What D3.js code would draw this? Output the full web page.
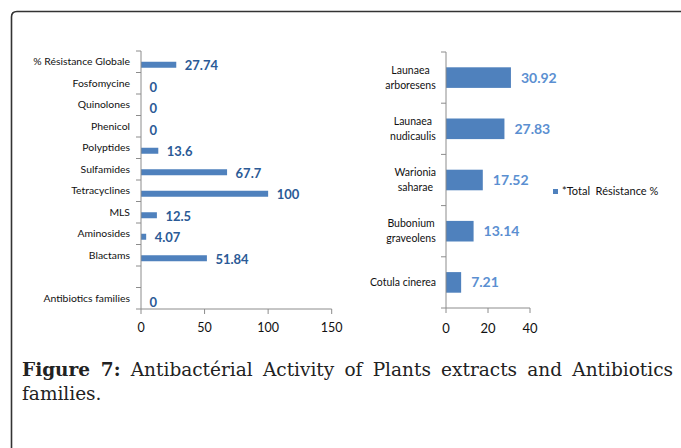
<!DOCTYPE html>
<html><head><meta charset="utf-8">
<script src="https://cdn.jsdelivr.net/npm/d3@7"></script>
<style>
html,body{margin:0;padding:0;background:#fff;width:681px;height:448px;overflow:hidden;}
#cap{position:absolute;left:22px;top:358px;width:651px;font-family:"DejaVu Serif","Liberation Serif",serif;font-size:18.5px;line-height:24px;color:#222;}
#cap .l1{text-align:justify;text-align-last:justify;white-space:nowrap;}
#cap b{font-weight:bold;}
</style></head><body>
<svg id="chart" width="681" height="448" style="position:absolute;left:0;top:0"></svg>
<div id="cap"><div class="l1"><b>Figure 7:</b> Antibactérial Activity of Plants extracts and Antibiotics</div><div>families.</div></div>
<script>
const antibioticCategories = ["% Résistance Globale","Fosfomycine","Quinolones","Phenicol","Polyptides","Sulfamides","Tetracyclines","MLS","Aminosides","Blactams","","Antibiotics families"];
const antibioticValues = [27.74,0,0,0,13.6,67.7,100,12.5,4.07,51.84,null,0];
const antibioticTicks = [0,50,100,150];
const plantCategories = [["Launaea","arboresens"],["Launaea","nudicaulis"],["Warionia","saharae"],["Bubonium","graveolens"],["Cotula cinerea"]];
const plantValues = [30.92,27.83,17.52,13.14,7.21];
const plantTicks = [0,20,40];
const legendLabel = "*Total  Résistance %";

const svg = d3.select("#chart");
const font = "Lato, 'Open Sans', sans-serif";
const barColor = "#4f81bd";
const axisColor = "#8c8c8c";

// frame
svg.append("path").attr("d","M11.5,448 L11.5,17 Q11.5,11.5 17,11.5 L681,11.5")
  .attr("fill","none").attr("stroke","#333").attr("stroke-width",1.6);

// ---- Left chart
const lx = d3.scaleLinear().domain([0,150]).range([141,331.7]);
const ly = d3.scaleBand().domain(antibioticCategories.map((d,i)=>i)).range([51,309]).paddingInner(0).paddingOuter(0);
const g1 = svg.append("g");
g1.selectAll("rect").data(antibioticValues.map((v,i)=>({v,i})).filter(d=>d.v!==null)).enter().append("rect")
  .attr("x",lx(0)).attr("y",d=>ly(d.i)+ly.bandwidth()/2).attr("height",6)
  .attr("width",d=>lx(d.v)-lx(0)).attr("fill",barColor);
g1.append("line").attr("x1",141).attr("x2",141).attr("y1",51).attr("y2",309).attr("stroke",axisColor);
const yTicks1 = d3.range(antibioticCategories.length+1).map(i=>51+i*ly.bandwidth());
g1.selectAll(".yt").data(yTicks1).enter().append("line").attr("x1",136).attr("x2",141)
  .attr("y1",d=>d).attr("y2",d=>d).attr("stroke",axisColor);
g1.append("line").attr("x1",141).attr("x2",331.7).attr("y1",309).attr("y2",309).attr("stroke",axisColor);
g1.selectAll(".xt").data(antibioticTicks).enter().append("line").attr("x1",d=>lx(d)).attr("x2",d=>lx(d))
  .attr("y1",309).attr("y2",314).attr("stroke",axisColor);
g1.selectAll(".xl").data(antibioticTicks).enter().append("text").attr("x",d=>lx(d)).attr("y",332)
  .attr("text-anchor","middle").attr("font-family",font).attr("font-size",12.5).attr("fill","#111").text(d=>d);
g1.selectAll(".cl").data(antibioticCategories).enter().append("text").attr("x",130)
  .attr("y",(d,i)=>ly(i)+ly.bandwidth()/2+3.5).attr("text-anchor","end").attr("font-family",font)
  .attr("font-size",10.4).attr("fill","#111").text(d=>d);
g1.selectAll(".vl").data(antibioticValues.map((v,i)=>({v,i})).filter(d=>d.v!==null)).enter().append("text")
  .attr("x",d=>lx(d.v)+8.5).attr("y",d=>ly(d.i)+ly.bandwidth()/2+8.5).attr("font-family",font)
  .attr("font-size",13).attr("font-weight","bold").attr("fill","#2b5a96").text(d=>d.v);

// ---- Right chart
const rx = d3.scaleLinear().domain([0,40]).range([446,530]);
const rb = d3.scaleBand().domain(plantCategories.map((d,i)=>i)).range([52,308]);
const g2 = svg.append("g");
g2.selectAll("rect").data(plantValues).enter().append("rect")
  .attr("x",rx(0)).attr("y",(d,i)=>rb(i)+rb.bandwidth()/2-10.3).attr("height",20.6)
  .attr("width",d=>rx(d)-rx(0)).attr("fill",barColor);
g2.append("line").attr("x1",446).attr("x2",446).attr("y1",52).attr("y2",308).attr("stroke",axisColor);
g2.selectAll(".yt").data(d3.range(plantCategories.length+1).map(i=>52+i*rb.bandwidth())).enter().append("line")
  .attr("x1",441).attr("x2",446).attr("y1",d=>d).attr("y2",d=>d).attr("stroke",axisColor);
g2.append("line").attr("x1",446).attr("x2",530).attr("y1",308).attr("y2",308).attr("stroke",axisColor);
g2.selectAll(".xt").data(plantTicks).enter().append("line").attr("x1",d=>rx(d)).attr("x2",d=>rx(d))
  .attr("y1",308).attr("y2",313).attr("stroke",axisColor);
g2.selectAll(".xl").data(plantTicks).enter().append("text").attr("x",d=>rx(d)).attr("y",333)
  .attr("text-anchor","middle").attr("font-family",font).attr("font-size",13).attr("fill","#111").text(d=>d);
plantCategories.forEach((lines,i)=>{
  const cy = rb(i)+rb.bandwidth()/2;
  const t = g2.append("text").attr("font-family",font).attr("font-size",10.5).attr("fill","#111").attr("text-anchor","middle");
  const n = lines.length;
  lines.forEach((s,j)=>{
    t.append("tspan").attr("x",0).attr("y",cy+(j-(n-1)/2)*15+3.5).text(s);
  });
  const w = t.node().getBBox().width;
  t.attr("transform",`translate(${436-w/2},0)`);
});
g2.selectAll(".vl").data(plantValues).enter().append("text")
  .attr("x",d=>rx(d)+10).attr("y",(d,i)=>rb(i)+rb.bandwidth()/2+5).attr("font-family",font)
  .attr("font-size",14).attr("font-weight","bold").attr("fill","#5b8fd1").text(d=>d);
svg.append("rect").attr("x",553).attr("y",189).attr("width",5).attr("height",5).attr("fill",barColor);
svg.append("text").attr("x",562).attr("y",195).attr("font-family",font).attr("font-size",11)
  .attr("fill","#111").style("white-space","pre").text(legendLabel);
</script>
</body></html>
